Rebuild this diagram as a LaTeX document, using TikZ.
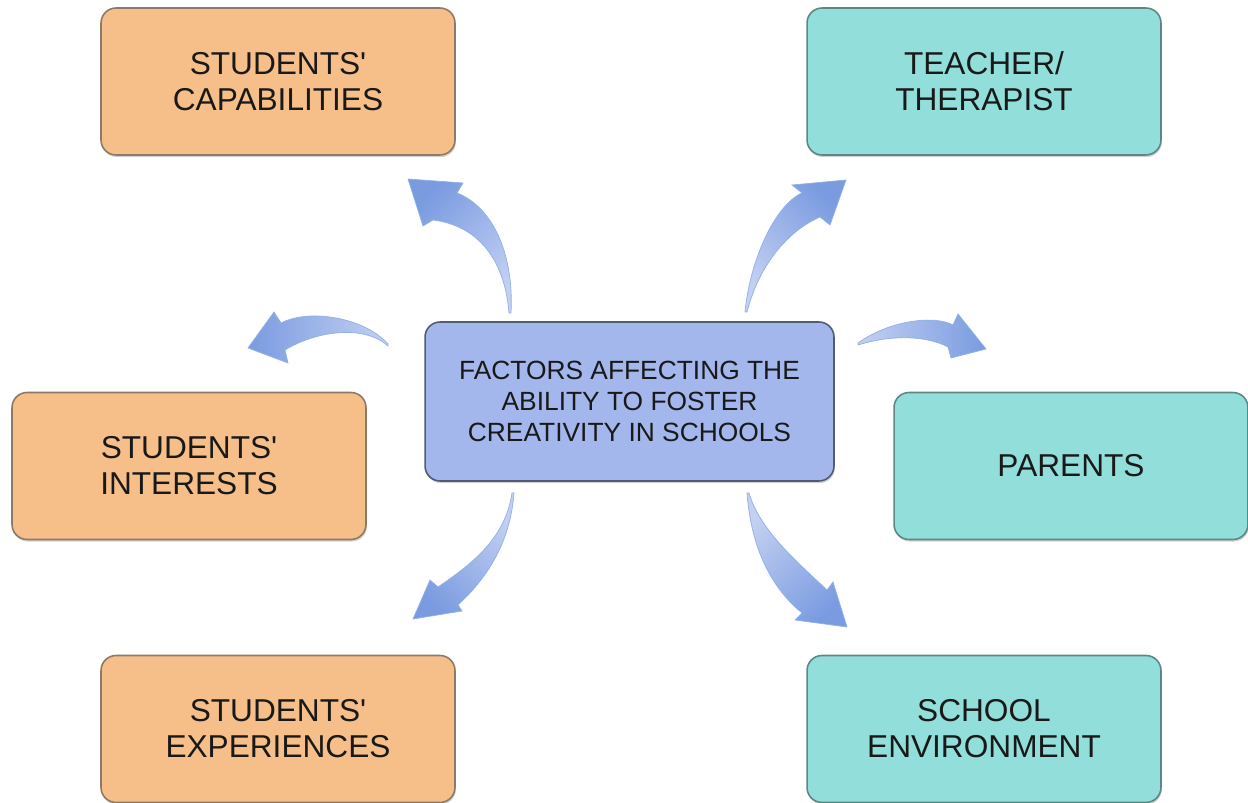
\documentclass[tikz,border=0pt]{standalone}
\usepackage{fontspec}
\setmainfont{Liberation Sans}[Ligatures=TeXOff]
\usetikzlibrary{shadows}
\newcommand{\BOXW}{7.08cm}
\newcommand{\BOXH}{2.94cm}
\newcommand{\LINEPT}{0.9pt}
\definecolor{myorange}{rgb}{0.965,0.749,0.537}
\definecolor{myorangeedge}{rgb}{0.55,0.48,0.40}
\definecolor{mycyan}{rgb}{0.573,0.871,0.859}
\definecolor{mycyanedge}{rgb}{0.36,0.53,0.52}
\definecolor{myblue}{rgb}{0.639,0.718,0.925}
\definecolor{myblueedge}{rgb}{0.31,0.36,0.45}
\definecolor{arrowdark}{rgb}{0.478,0.608,0.878}
\definecolor{arrowlight}{rgb}{0.765,0.816,0.949}
\definecolor{arrowedge}{rgb}{0.56,0.69,0.91}
\tikzset{
	factor/.style={rounded corners=0.3cm,line width=\LINEPT,minimum width=\BOXW,minimum height=\BOXH,
		align=center,font=\fontsize{18}{20.6}\selectfont,text=black!90,
		drop shadow={shadow xshift=0.5pt,shadow yshift=-1.2pt,opacity=0.35}},
	learner/.style={factor,fill=myorange,draw=myorangeedge},
	context/.style={factor,fill=mycyan,draw=mycyanedge},
	hub/.style={factor,fill=myblue,draw=myblueedge,minimum width=8.18cm,minimum height=3.18cm,
		font=\fontsize{15}{17.6}\selectfont},
	bendarrow/.style={draw=arrowedge,line width=0.4pt,top color=arrowdark,bottom color=arrowlight,shading angle=#1}
}
\begin{document}
\begin{tikzpicture}[x=0.02cm,y=-0.02cm]
	\useasboundingbox (0,0) rectangle (1248,803);
	
		%%
		\node[hub] (hub) at (629.5,401.5) {FACTORS AFFECTING THE\\ABILITY TO FOSTER\\CREATIVITY IN SCHOOLS};
		
		\node[learner] (capab) at (278,81.5) {STUDENTS'\\CAPABILITIES};
		\node[learner] (inter) at (189,466) {STUDENTS'\\INTERESTS};
		\node[learner] (exper) at (278,729) {STUDENTS'\\EXPERIENCES};
		
		\node[context] (teach) at (984,81.5) {TEACHER/\\THERAPIST};
		\node[context] (paren) at (1071,466) {PARENTS};
		\node[context] (envir) at (984,729) {SCHOOL\\ENVIRONMENT};
		
		%% curved block arrows
		\shade[bendarrow=45] (509,313) .. controls (505,262) and (480,226) .. (433,220) -- (423,226) -- (408,179)
			-- (463,183) -- (457,193) .. controls (495,208) and (514,258) .. (511,313) -- cycle;
		\shade[bendarrow=-45] (745,312) .. controls (750,260) and (775,205) .. (802,193) -- (792,185) -- (846,180)
			-- (830,225) -- (820,217) .. controls (790,230) and (760,262) .. (747,312) -- cycle;
		\shade[bendarrow=90] (388,344) .. controls (365,318) and (310,308) .. (281,323) -- (274,312) -- (248,348)
			-- (288,363) -- (285,350) .. controls (318,330) and (365,325) .. (388,346) -- cycle;
		\shade[bendarrow=-90] (858,343) .. controls (890,320) and (935,315) .. (953,325) -- (958,314) -- (986,349)
			-- (951,358) -- (948,347) .. controls (925,335) and (890,335) .. (858,345) -- cycle;
		\shade[bendarrow=135] (514,493) .. controls (510,545) and (485,580) .. (458,605) -- (462,611) -- (413,619)
			-- (430,580) -- (438,587) .. controls (470,565) and (505,540) .. (512,493) -- cycle;
		\shade[bendarrow=-135] (747,493) .. controls (752,560) and (780,595) .. (802,613) -- (795,620) -- (847,627)
			-- (833,582) -- (827,590) .. controls (795,560) and (760,530) .. (749,493) -- cycle;

	\end{tikzpicture}
\end{document}
